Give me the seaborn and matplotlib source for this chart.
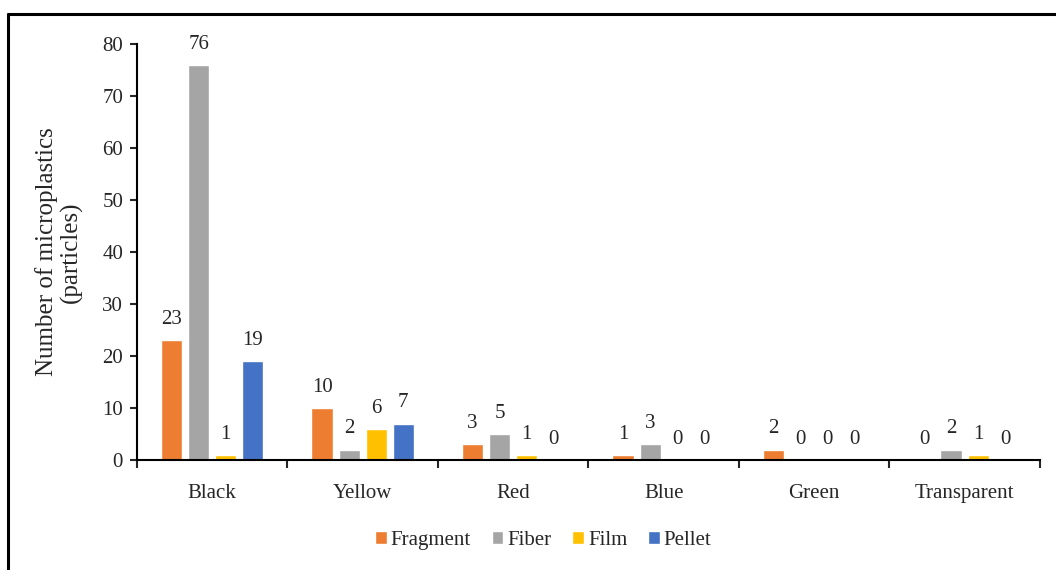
import matplotlib
matplotlib.use("Agg")
import matplotlib.pyplot as plt
from matplotlib.lines import Line2D
import seaborn as sns
import pandas as pd
import numpy as np

colours = ["Black", "Yellow", "Red", "Blue", "Green", "Transparent"]
types = ["Fragment", "Fiber", "Film", "Pellet"]
fragment = [23, 10, 3, 1, 2, 0]
fiber = [76, 2, 5, 3, 0, 2]
film = [1, 6, 1, 0, 0, 1]
pellet = [19, 7, 0, 0, 0, 0]

df = pd.DataFrame({"Colour": colours * 4,
                   "Type": np.repeat(types, len(colours)),
                   "Count": fragment + fiber + film + pellet})

sns.set_style("white")
plt.rcParams["font.family"] = ["Liberation Serif", "DejaVu Serif"]

fig = plt.figure(figsize=(10.56, 5.70), dpi=100)
ax = fig.add_axes([0.1297, 0.193, 0.855, 0.730])

pal = ["#ED7D31", "#A5A5A5", "#FFC000", "#4472C4"]
sns.barplot(data=df, x="Colour", y="Count", hue="Type", order=colours,
            hue_order=types, palette=pal, width=0.72, gap=0.22,
            saturation=1, ax=ax)

for c in ax.containers:
    ax.bar_label(c, fmt="%d", padding=8, fontsize=15)

ax.set_ylim(0, 80)
ax.set_yticks(range(0, 81, 10))
ax.set_xlim(-0.5, 5.5)
ax.set_xticks(np.arange(-0.5, 6, 1), minor=True)
ax.tick_params(axis="x", which="major", length=0, labelsize=15, pad=17)
ax.tick_params(axis="x", which="minor", length=6, width=1.5, direction="out", bottom=True)
ax.tick_params(axis="y", length=5, width=1.5, direction="out", left=True, labelsize=15, pad=5)
ax.set_xlabel("")
ax.set_ylabel("Number of microplastics\n(particles)", fontsize=18, labelpad=14,
              linespacing=1.1)
sns.despine(ax=ax)
for s in ["left", "bottom"]:
    ax.spines[s].set_linewidth(1.5)
    ax.spines[s].set_color("black")

ax.legend(loc="upper center", bbox_to_anchor=(0.45, -0.125), ncol=4, frameon=False,
          fontsize=15, handlelength=0.55, handleheight=0.55, handletextpad=0.2,
          columnspacing=1.0)

# outer frame (top and left edges visible)
fig.add_artist(Line2D([8 / 1056, 1], [1 - 14 / 570, 1 - 14 / 570], color="black", lw=2.2))
fig.add_artist(Line2D([8 / 1056, 8 / 1056], [0, 1 - 14 / 570], color="black", lw=2.2))

fig.savefig("out.png", dpi=100)
